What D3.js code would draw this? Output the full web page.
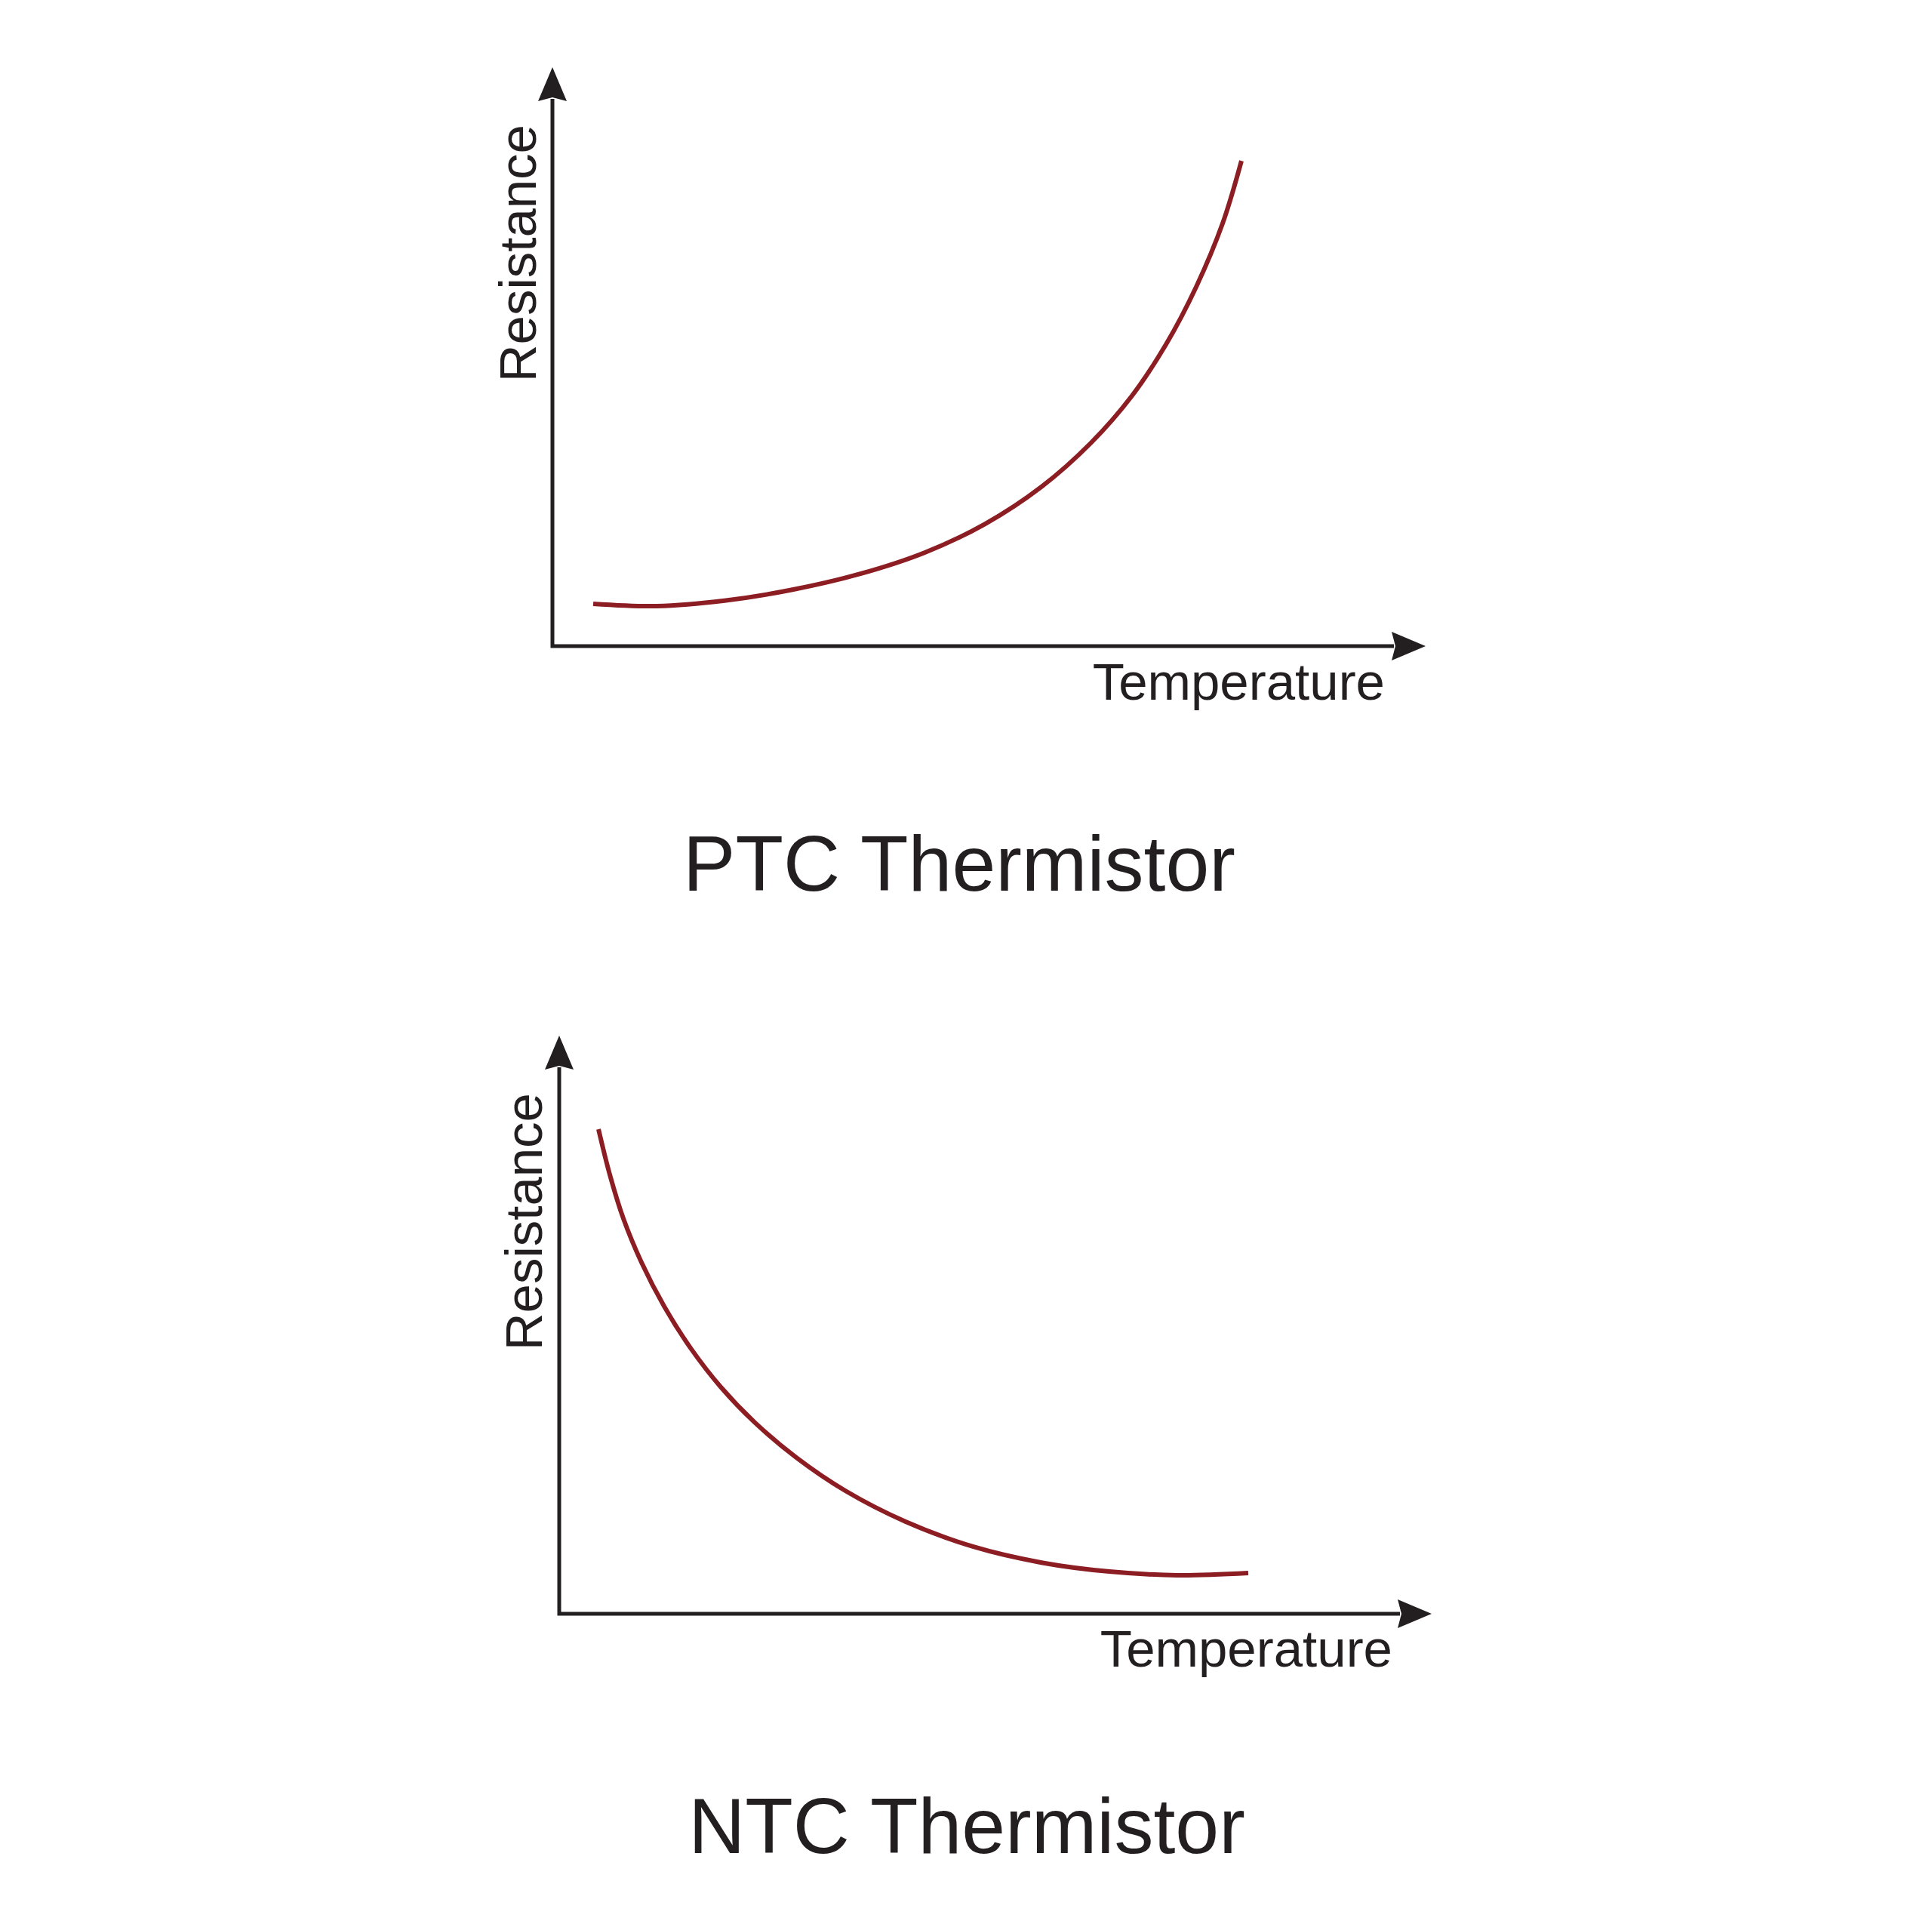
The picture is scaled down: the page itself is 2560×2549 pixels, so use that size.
<!DOCTYPE html>
<html>
<head>
<meta charset="utf-8">
<script src="https://cdn.jsdelivr.net/npm/d3@7"></script>
<style>
html,body{margin:0;padding:0;background:#fff;}
svg{display:block;}
text{font-family:"Liberation Sans", Arial, Helvetica, sans-serif;fill:#231f20;}
</style>
</head>
<body>
<script>
// ---- data (arbitrary units: temperature 0-100, resistance 0-100) ----
const ptcTemperature = [4.67, 11.93, 19.71, 27.48, 35.26, 42.61, 49.52, 56.01, 61.63, 66.38, 70.27, 73.73, 76.75, 78.91];
const ptcResistance  = [7.30, 6.91, 7.85, 9.74, 12.49, 16.14, 21.08, 27.53, 35.04, 43.26, 52.11, 62.06, 73.00, 83.82];

const ntcTemperature = [4.50, 5.80, 7.35, 9.43, 12.02, 15.05, 18.51, 22.40, 27.16, 32.79, 39.71, 47.49, 55.28, 63.06, 70.85, 78.98];
const ntcResistance  = [83.81, 75.93, 68.37, 60.77, 53.20, 45.97, 39.23, 33.11, 27.04, 21.28, 15.93, 11.59, 8.85, 7.30, 6.67, 7.05];

const titles = ["PTC Thermistor", "NTC Thermistor"];
const xLabel = "Temperature";
const yLabel = "Resistance";

// ---- layout ----
const W = 2560, H = 2549;
const svg = d3.select("body").append("svg").attr("width", W).attr("height", H);
svg.append("rect").attr("width", W).attr("height", H).attr("fill", "#fff");

const panels = [
  {temp: ptcTemperature, res: ptcResistance, title: titles[0],
   x0: 732, x1: 1889, y0: 856, y1: 89,
   xLabX: 1835, xLabY: 927, yLabX: 710, yLabY: 165, titleX: 1271, titleY: 1180},
  {temp: ntcTemperature, res: ntcResistance, title: titles[1],
   x0: 741, x1: 1897, y0: 2138, y1: 1372,
   xLabX: 1845, xLabY: 2208, yLabX: 718, yLabY: 1448, titleX: 1281, titleY: 2455}
];

const ink = "#231f20";
const curveColor = "#8c1d22";
const arrowLen = 45, arrowHalf = 19, notch = 5;

panels.forEach(p => {
  const x = d3.scaleLinear().domain([0, 100]).range([p.x0, p.x1]);
  const y = d3.scaleLinear().domain([0, 100]).range([p.y0, p.y1]);
  const g = svg.append("g");

  // axes
  g.append("path")
    .attr("d", `M${x(0)},${y(100) + arrowLen - 3} L${x(0)},${y(0)} L${x(100) - arrowLen + 3},${y(0)}`)
    .attr("fill", "none").attr("stroke", ink).attr("stroke-width", 5)
    .attr("stroke-linejoin", "miter").attr("stroke-linecap", "butt");

  // y arrow
  const ax = x(0), ay = y(100);
  g.append("path")
    .attr("d", `M${ax},${ay} L${ax + arrowHalf},${ay + arrowLen} L${ax},${ay + arrowLen - notch} L${ax - arrowHalf},${ay + arrowLen} Z`)
    .attr("fill", ink);
  // x arrow
  const bx = x(100), by = y(0);
  g.append("path")
    .attr("d", `M${bx},${by} L${bx - arrowLen},${by - arrowHalf} L${bx - arrowLen + notch},${by} L${bx - arrowLen},${by + arrowHalf} Z`)
    .attr("fill", ink);

  // curve
  const pts = p.temp.map((t, i) => [t, p.res[i]]);
  const line = d3.line().x(d => x(d[0])).y(d => y(d[1])).curve(d3.curveCatmullRom.alpha(0.5));
  g.append("path").attr("d", line(pts))
    .attr("fill", "none").attr("stroke", curveColor).attr("stroke-width", 6);

  // labels
  g.append("text").attr("x", p.xLabX).attr("y", p.xLabY)
    .attr("text-anchor", "end").attr("font-size", 69).text(xLabel);
  g.append("text")
    .attr("transform", `translate(${p.yLabX},${p.yLabY}) rotate(-90)`)
    .attr("text-anchor", "end").attr("font-size", 69).text(yLabel);
  g.append("text").attr("x", p.titleX).attr("y", p.titleY)
    .attr("text-anchor", "middle").attr("font-size", 104).text(p.title);
});
</script>
</body>
</html>
